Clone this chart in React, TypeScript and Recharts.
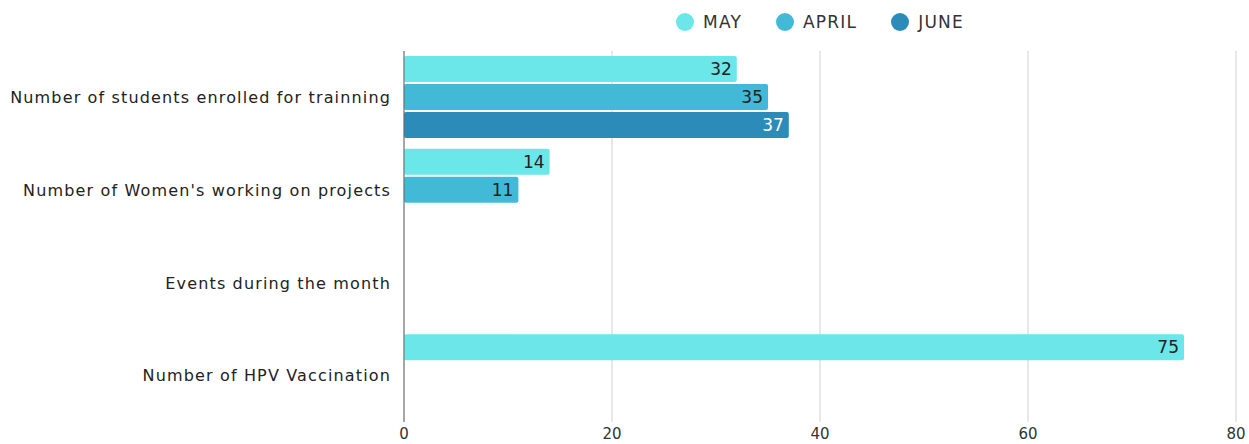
import React from 'react';
import { BarChart, Bar, XAxis, YAxis, CartesianGrid, Legend, LabelList } from 'recharts';

// categories and monthly values
const categories = [
  'Number of students enrolled for trainning',
  "Number of Women's working on projects",
  'Events during the month',
  'Number of HPV Vaccination',
];
const mayValues = [32, 14, null, 75];
const aprilValues = [35, 11, null, null];
const juneValues = [37, null, null, null];
const xTicks = [0, 20, 40, 60, 80];

const series = [
  { key: 'may', name: 'MAY', color: '#6be6e9', labelColor: '#222' },
  { key: 'april', name: 'APRIL', color: '#42b9d7', labelColor: '#222' },
  { key: 'june', name: 'JUNE', color: '#2d8bba', labelColor: '#fff' },
];

const data = categories.map((name, i) => ({
  name,
  may: mayValues[i],
  april: aprilValues[i],
  june: juneValues[i],
}));

const FONT = '"DejaVu Sans", sans-serif';

const LegendContent = () => (
  <div style={{ display: 'flex', justifyContent: 'center', gap: 34, fontFamily: FONT, fontSize: 17, letterSpacing: 1.2, color: '#333' }}>
    {series.map(s => (
      <div key={s.key} style={{ display: 'flex', alignItems: 'center', gap: 9 }}>
        <span style={{ width: 18, height: 18, borderRadius: '50%', background: s.color, display: 'inline-block' }} />
        <span>{s.name}</span>
      </div>
    ))}
  </div>
);

export default function App() {
  return (
    <div style={{ position: 'absolute', left: 0, top: 0, width: 1249, height: 444, background: '#fff' }}>
      <BarChart
        width={1249}
        height={444}
        data={data}
        layout="vertical"
        margin={{ top: 15, right: 13, bottom: 0, left: 0 }}
        barCategoryGap={5}
        barGap={2}
      >
        <CartesianGrid horizontal={false} stroke="#d0d0d0" />
        <XAxis
          type="number"
          domain={[0, 80]}
          ticks={xTicks}
          axisLine={false}
          tickLine={false}
          tickMargin={0}
          height={22}
          tick={{ fill: '#333', fontSize: 15, fontFamily: FONT }}
        />
        <YAxis
          type="category"
          dataKey="name"
          width={404}
          tickLine={false}
          axisLine={{ stroke: '#666' }}
          tickMargin={7}
          tick={{ fill: '#222', fontSize: 16, fontFamily: FONT, letterSpacing: 1.15 }}
        />
        <Legend
          verticalAlign="top"
          height={36}
          wrapperStyle={{ left: 404, width: 832, top: 12 }}
          content={() => <LegendContent />}
        />
        {series.map(s => (
          <Bar key={s.key} dataKey={s.key} name={s.name} fill={s.color} radius={2} isAnimationActive={false}>
            <LabelList
              dataKey={s.key}
              position="insideRight"
              fill={s.labelColor}
              fontSize={17}
              fontFamily={FONT}
            />
          </Bar>
        ))}
      </BarChart>
    </div>
  );
}
